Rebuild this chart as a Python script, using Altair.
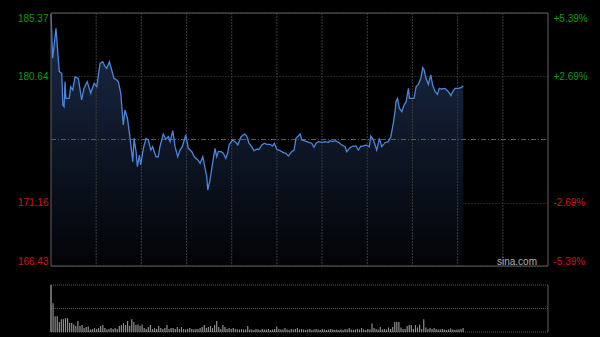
import altair as alt
import pandas as pd

# ---------------- data ----------------
prev_close = 175.90
y_ticks = [166.43, 171.16, 180.64, 185.37]
pct_labels = ["-5.39%", "-2.69%", "+2.69%", "+5.39%"]

minutes = [
    0.0, 0.8, 2.4, 3.5, 4.0, 5.2, 5.7, 6.3, 6.8, 7.2,
    8.8, 9.5, 10.5, 11.6, 13.2, 14.8, 15.9, 17.5, 19.2, 20.8,
    22.1, 23.7, 25.0, 26.1, 26.9, 28.2, 29.3, 30.4, 31.7, 32.5,
    33.7, 34.9, 35.7, 36.9, 38.2, 39.5, 40.1, 41.1, 41.7, 42.7,
    43.3, 44.6, 45.9, 47.0, 48.2, 49.1, 50.7, 51.8, 52.6, 54.2,
    55.4, 56.7, 57.5, 58.8, 59.9, 61.2, 62.3, 63.4, 65.1, 66.3,
    68.0, 69.2, 70.9, 72.0, 73.3, 74.4, 75.2, 75.7, 76.8, 77.9,
    79.2, 80.0, 80.8, 82.1, 83.2, 84.4, 85.3, 86.0, 87.6, 88.9,
    90.2, 91.8, 93.4, 94.5, 95.6, 96.9, 98.0, 99.3, 100.5, 101.8,
    103.0, 104.2, 105.8, 106.9, 107.9, 109.0, 110.1, 111.4, 112.2, 113.5,
    114.6, 116.2, 117.4, 118.3, 119.4, 120.3, 121.1, 122.2, 123.5, 124.8,
    125.9, 127.0, 128.0, 129.1, 130.7, 132.3, 133.9, 134.8, 136.1, 137.2,
    138.8, 140.4, 142.0, 142.8, 144.1, 145.7, 147.3, 148.4, 149.6, 150.8,
    152.1, 153.7, 154.4, 155.7, 157.3, 158.6, 159.7, 161.3, 162.9, 164.1,
    165.3, 166.1, 166.6, 167.3, 168.2, 169.4, 170.5, 171.5, 172.6, 173.1,
    174.2, 175.3, 176.3, 177.4, 178.6, 179.5, 180.2, 181.1, 182.2, 183.4,
    184.3, 185.5, 186.6, 187.5, 188.7, 190.3, 191.9, 193.1, 194.0, 195.1,
    196.7, 197.9, 199.1,
]

prices = [
    185.30, 181.98, 184.22, 181.98, 180.98, 180.86, 178.48, 178.36, 180.23, 178.98,
    178.98, 179.85, 179.61, 180.60, 180.48, 178.86, 179.73, 180.23, 179.36, 180.11,
    179.85, 181.60, 181.72, 181.35, 181.23, 181.72, 181.10, 180.48, 180.35, 180.23,
    179.36, 176.99, 178.11, 177.49, 175.99, 174.24, 175.99, 174.99, 173.86, 174.74,
    173.99, 175.24, 175.99, 175.86, 175.11, 175.36, 174.61, 174.61, 175.36, 176.31,
    175.92, 176.11, 175.74, 176.56, 175.36, 174.61, 175.11, 175.36, 176.24, 175.24,
    174.99, 174.61, 174.37, 174.12, 174.61, 173.74, 173.12, 172.12, 172.87, 173.99,
    175.24, 174.61, 174.99, 174.99, 174.87, 174.49, 174.87, 175.49, 175.86, 175.74,
    175.49, 176.11, 176.31, 176.16, 175.62, 175.36, 175.06, 175.17, 175.17, 175.49,
    175.62, 175.54, 175.54, 175.41, 175.62, 175.17, 175.11, 174.99, 174.91, 174.87,
    174.66, 174.99, 175.11, 175.99, 176.16, 176.31, 175.86, 175.81, 175.74, 175.66,
    175.62, 175.32, 175.62, 175.74, 175.69, 175.74, 175.69, 175.81, 175.74, 175.81,
    175.69, 175.49, 175.36, 174.99, 175.24, 175.41, 175.41, 175.11, 175.41, 175.41,
    175.49, 175.36, 176.16, 175.86, 175.11, 175.99, 175.36, 175.66, 175.74, 176.11,
    177.11, 177.98, 178.73, 178.98, 178.24, 177.98, 178.48, 178.73, 179.73, 178.98,
    178.98, 178.98, 179.85, 180.03, 180.48, 181.28, 181.10, 180.48, 180.03, 180.73,
    179.98, 179.48, 179.28, 179.73, 179.68, 179.73, 179.48, 179.18, 179.48, 179.73,
    179.73, 179.78, 179.93,
]

volume = [
    47.5, 29, 16, 16, 10, 13, 13, 14, 14, 9,
    9, 7.5, 6, 11, 6, 7, 4, 5, 5.5, 2.5,
    3, 4, 3, 4, 6, 7, 4, 2.5, 3, 4,
    3, 4, 3, 6, 7, 9, 7, 11, 6, 13,
    10, 7, 7.5, 6, 7.5, 4, 3, 5, 7, 3,
    4, 3, 6, 4, 3, 4, 7, 3, 4, 4,
    3, 5, 3, 5, 3, 2.5, 3, 4, 3, 2.5,
    3, 3, 4, 5, 7, 4, 5, 6, 4, 7,
    11, 5, 3, 7, 5, 3, 4, 3, 4, 3,
    2.5, 2.5, 3, 2.5, 2.5, 6, 2.5, 2.5, 2, 3,
    2.5, 2, 3, 2.5, 2.5, 3, 2, 2.5, 3, 5.5,
    3, 2.5, 2.5, 4, 2.5, 2, 3, 2.5, 3, 4,
    2.5, 3, 2.5, 2, 2.5, 3, 2, 2.5, 3, 2.5,
    2, 3, 2.5, 2, 2.5, 3, 2.5, 2, 2.5, 2,
    2.5, 2, 3, 2.5, 4, 2.5, 2, 2.5, 3, 2.5,
    4, 2.5, 2, 3, 2.5, 8.5, 4, 3, 2.5, 5,
    2.5, 3, 2.5, 4.5, 3, 5, 10, 10, 10, 4.5,
    3, 3, 6, 7, 7, 3, 7, 4.5, 7.5, 3,
    13, 4.5, 3, 4, 3, 4, 3, 2.5, 2.5, 3,
    2.5, 2, 2.5, 3.5, 2.5, 2, 2.5, 2.5, 3, 4,
]

# ---------------- layout ----------------
W, H = 497, 319          # plot width, total plot height (price + volume)
PH = 253                 # price panel height
VT, VB = 272, 319        # volume panel top / bottom
N_MIN = 240
FONT = "Arial, Liberation Sans, sans-serif"
GREEN, RED = "#109a10", "#d01414"

price_df = pd.DataFrame({"minute": minutes, "price": prices})
vol_df = pd.DataFrame({"minute": list(range(len(volume))), "vol": volume})
vgrid_df = pd.DataFrame({"minute": [N_MIN * k / 11 for k in range(1, 11)]})
volgrid_df = pd.DataFrame({"vol": [0, max(volume) / 2, max(volume)]})
one = alt.Data(values=[{"a": 1}])

xs = alt.Scale(domain=[0, N_MIN], range=[0, W], nice=False, zero=False, padding=0)
ys = alt.Scale(domain=[y_ticks[0], y_ticks[-1]], range=[PH, 0], nice=False, zero=False, padding=0)
vs = alt.Scale(domain=[0, max(volume)], range=[VB, VT], nice=False, zero=False, padding=0)
X = alt.X("minute:Q", scale=xs, axis=None)

label_color = {"condition": {"test": f"datum.value > {prev_close}", "value": GREEN}, "value": RED}
pct_expr = " : ".join(
    f"abs(datum.value - {v}) < 0.005 ? '{l}'" for v, l in zip(y_ticks, pct_labels)
) + " : ''"

left_axis = alt.Axis(
    values=y_ticks, format=".2f", orient="left", domain=False, ticks=False, title="",
    labelPadding=3, labelFlush=True, labelColor=label_color,
    grid=True, gridColor="#4a4a4a", gridDash=[1, 2], gridWidth=1,
)
right_axis = alt.Axis(
    values=y_ticks, orient="right", domain=False, ticks=False, grid=False, title="",
    labelPadding=5, labelFlush=True, labelColor=label_color, labelExpr=pct_expr,
)

base = alt.Chart(price_df)

area = base.mark_area(
    color=alt.Gradient(
        gradient="linear", x1=0, y1=0, x2=0, y2=1,
        stops=[alt.GradientStop(color="#1b2c4a", offset=0),
               alt.GradientStop(color="#020306", offset=1)],
    )
).encode(x=X, y=alt.Y("price:Q", scale=ys, axis=left_axis), y2=alt.datum(y_ticks[0]))

vgrid = alt.Chart(vgrid_df).mark_rule(color="#3a3a3a", strokeDash=[2, 1], strokeWidth=1).encode(
    x=X, y=alt.value(0), y2=alt.value(PH)
)

midline = alt.Chart(pd.DataFrame({"p": [prev_close]})).mark_rule(
    color="#5a5a5a", strokeDash=[5, 2, 1, 2], strokeWidth=1
).encode(x=alt.value(0), x2=alt.value(W), y=alt.Y("p:Q", scale=ys, axis=None))

line = base.mark_line(color="#4b86dc", strokeWidth=1.3).encode(
    x=X, y=alt.Y("price:Q", scale=ys, axis=None)
)

right = base.mark_line(opacity=0).encode(
    x=X, y=alt.Y("price:Q", scale=ys, axis=right_axis)
)

border = alt.Chart(one).mark_rect(filled=False, stroke="#5e5e5e", strokeWidth=1).encode(
    x=alt.value(0), x2=alt.value(W), y=alt.value(0), y2=alt.value(PH)
)

watermark = alt.Chart(one).mark_text(
    text="sina.com", align="right", baseline="middle", font=FONT, fontSize=10, color="#b0b0b0"
).encode(x=alt.value(486), y=alt.value(249))

volgrid = alt.Chart(volgrid_df).mark_rule(color="#5a5a5a", strokeDash=[1, 1], strokeWidth=1).encode(
    x=alt.value(0), x2=alt.value(W), y=alt.Y("vol:Q", scale=vs, axis=None)
)

vol_sides = alt.Chart(pd.DataFrame({"minute": [0, N_MIN]})).mark_rule(
    color="#5e5e5e", strokeWidth=1
).encode(x=X, y=alt.value(VT), y2=alt.value(VB))

bars = alt.Chart(vol_df).mark_bar(size=1.2, color="#8e8e8e").encode(
    x=X, y=alt.Y("vol:Q", scale=vs, axis=None)
)

chart = alt.layer(
    area, vgrid, midline, line, right, border, watermark, volgrid, vol_sides, bars
).resolve_scale(y="independent").properties(
    width=W, height=H,
    autosize=alt.AutoSizeParams(type="none"),
    padding={"left": 51, "top": 13, "right": 52, "bottom": 5},
    background="#000000",
).configure_view(stroke=None).configure_axis(
    labelFont=FONT, labelFontSize=10
)

chart.save("out.html", embed_options={"renderer": "svg", "actions": False})
